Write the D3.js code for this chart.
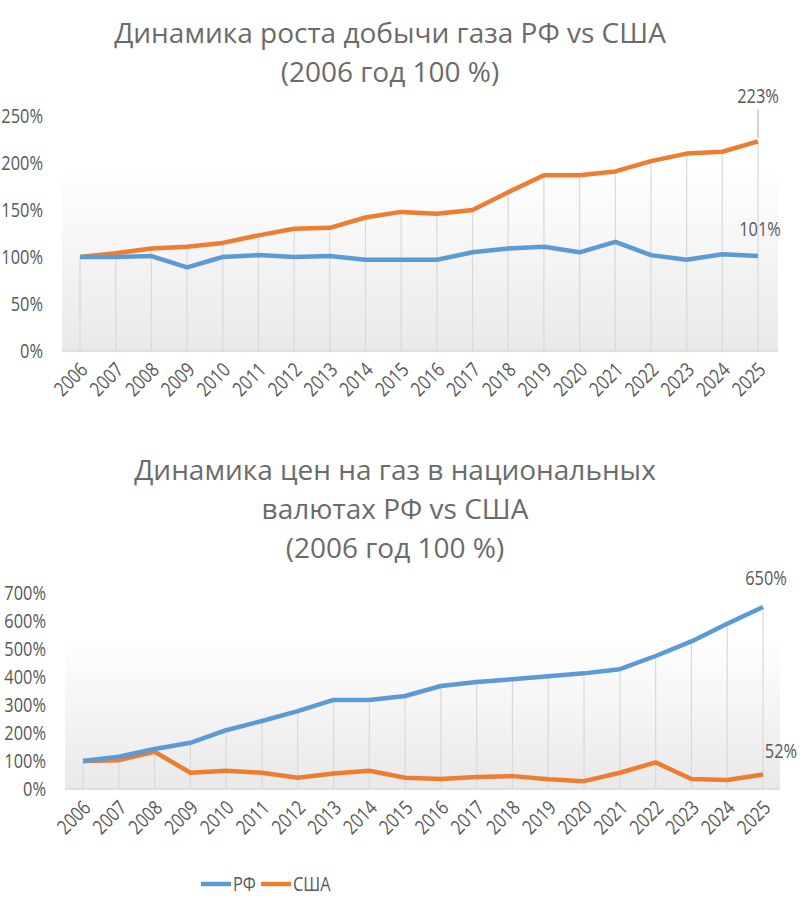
<!DOCTYPE html>
<html><head><meta charset="utf-8">
<script src="https://cdnjs.cloudflare.com/ajax/libs/d3/7.8.5/d3.min.js"></script>
<style>
body{margin:0;background:#fff;}
text{font-family:"Open Sans",sans-serif;fill:#595959;}
</style></head>
<body>
<script>
var years = d3.range(2006, 2026);
// production growth, 2006 = 100%
var prodRF  = [100,100,101,89,100,102,100,101,97,97,97,105,109,111,105,116,102,97,103,101];
var prodUSA = [100,104,109,111,115,123,130,131,142,148,146,150,169,187,187,191,202,210,212,223];
// prices in national currency, 2006 = 100%
var priceRF  = [100,115,143,165,210,243,278,318,318,332,368,382,392,403,413,428,475,527,590,650];
var priceUSA = [100,103,133,58,65,58,40,55,65,40,36,43,46,35,28,58,95,36,32,52];

var blue = "#5b9bd5", orange = "#ed7d31";
var svg = d3.select("body").append("svg").attr("width", 802).attr("height", 900);

var defs = svg.append("defs");
var grad = defs.append("linearGradient").attr("id", "bg").attr("x1", 0).attr("y1", 0).attr("x2", 0).attr("y2", 1);
grad.append("stop").attr("offset", "0%").attr("stop-color", "#ffffff");
grad.append("stop").attr("offset", "100%").attr("stop-color", "#e9e9e9");

// condensed text, Calibri-like width
var narrow = function(g, x, y, str, size, anchor, rot){
    return g.append("text")
        .attr("transform", "translate(" + x + "," + y + ")" + (rot ? " rotate(" + rot + ")" : "") + " scale(0.82,1)")
        .attr("text-anchor", anchor).style("font-size", size + "px").text(str);
};

var drawChart = function(opt){
    var x = d3.scaleLinear().domain([2006, 2025]).range([opt.x0, opt.x1]);
    var y = d3.scaleLinear().domain([0, opt.max]).range([opt.yb, opt.yt]);
    var g = svg.append("g");

    g.append("rect").attr("x", opt.ax0).attr("y", opt.yb - (opt.yb - opt.yt) * 0.78)
        .attr("width", opt.ax1 - opt.ax0).attr("height", (opt.yb - opt.yt) * 0.78).style("fill", "url(#bg)");

    opt.titles.forEach(function(t, i){
        g.append("text").attr("x", opt.tx).attr("y", opt.ty + i * opt.tdy).attr("text-anchor", "middle")
            .style("font-size", "28px").style("fill", "#6b6b6b").text(t);
    });

    // drop lines
    years.forEach(function(yr, i){
        var top = d3.max([opt.a[i], opt.b[i]]);
        g.append("line").attr("x1", x(yr)).attr("x2", x(yr)).attr("y1", y(top)).attr("y2", opt.yb)
            .style("stroke", "#d9d9d9").style("stroke-width", 1.2);
    });

    y.ticks(opt.max / opt.step).forEach(function(d){
        narrow(g, opt.ax0 - 19, y(d) + 7, d + "%", 20, "end");
    });

    g.append("line").attr("x1", opt.ax0).attr("x2", opt.ax1).attr("y1", opt.yb).attr("y2", opt.yb)
        .style("stroke", "#d9d9d9").style("stroke-width", 1.5);

    years.forEach(function(yr){
        narrow(g, x(yr) + 9, opt.yb + 20, yr, 20, "end", -45);
    });

    var line = d3.line().x(function(d, i){ return x(years[i]); }).y(function(d){ return y(d); });
    g.append("path").datum(opt.b).attr("d", line).style("fill", "none").style("stroke", orange).style("stroke-width", 4.5).style("stroke-linejoin", "round");
    g.append("path").datum(opt.a).attr("d", line).style("fill", "none").style("stroke", blue).style("stroke-width", 4.5).style("stroke-linejoin", "round");

    opt.labels.forEach(function(l){
        var v = l.data[19];
        narrow(g, x(2025) + l.dx, y(v) + l.dy, v + "%", 20, "middle");
        if (l.leader) g.append("line").attr("x1", x(2025)).attr("x2", x(2025)).attr("y1", y(v) - 3).attr("y2", y(v) + l.dy + 6)
            .style("stroke", "#a6a6a6").style("stroke-width", 1);
    });
};

drawChart({x0: 80, x1: 758, ax0: 62, ax1: 778, yb: 351, yt: 116, max: 250, step: 50,
    a: prodRF, b: prodUSA, tx: 390, ty: 43, tdy: 39,
    titles: ["Динамика роста добычи газа РФ vs США", "(2006 год 100 %)"],
    labels: [{data: prodUSA, dx: 0, dy: -38, leader: true}, {data: prodRF, dx: 2, dy: -20}]});

drawChart({x0: 83, x1: 763, ax0: 65, ax1: 780, yb: 789, yt: 593, max: 700, step: 100,
    a: priceRF, b: priceUSA, tx: 395, ty: 480, tdy: 39,
    titles: ["Динамика цен на газ в национальных", "валютах РФ vs США", "(2006 год 100 %)"],
    labels: [{data: priceRF, dx: 3, dy: -22}, {data: priceUSA, dx: 18, dy: -16}]});

// legend
var leg = svg.append("g");
[["РФ", blue, 201], ["США", orange, 261]].forEach(function(d){
    leg.append("line").attr("x1", d[2]).attr("x2", d[2] + 30).attr("y1", 884).attr("y2", 884).style("stroke", d[1]).style("stroke-width", 4.5);
    narrow(leg, d[2] + 32, 891, d[0], 20, "start");
});
</script>
</body></html>
